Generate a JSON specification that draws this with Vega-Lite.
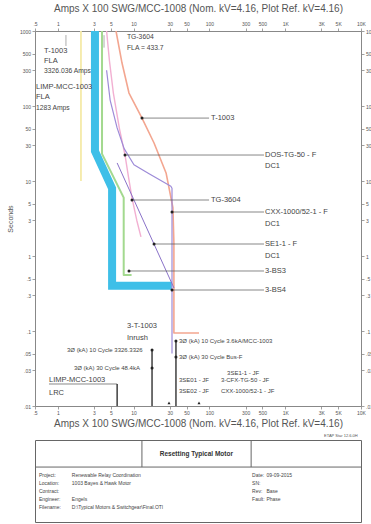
{
  "$schema": "https://vega.github.io/schema/vega-lite/v6.json",
  "padding": {"left": 5, "top": 3, "right": 0, "bottom": 0},
  "background": "white",
  "spacing": 4,
  "config": {
    "view": {"stroke": null},
    "font": "Liberation Sans",
    "axis": {"domain": false, "grid": false, "tickColor": "#888", "tickSize": 3, "tickWidth": 0.8, "labelFontSize": 5, "labelColor": "#555", "labelPadding": 1.5, "labelFlush": false, "labelOverlap": false, "labelBound": false, "titleFontSize": 10, "titleColor": "#555", "titleFontWeight": "normal", "labelFont": "Liberation Sans", "titleFont": "Liberation Sans"}
  },
  "datasets": {
    "curves": [
      {"s": "Motor Start", "x": 3.09, "y": 1000, "o": 1},
      {"s": "Motor Start", "x": 3.09, "y": 25, "o": 2},
      {"s": "Motor Start", "x": 5.2, "y": 8.0, "o": 3},
      {"s": "Motor Start", "x": 5.2, "y": 0.4, "o": 4},
      {"s": "Motor Start", "x": 32, "y": 0.4, "o": 5},
      {"s": "Motor Hot", "x": 3.83, "y": 1000, "o": 1},
      {"s": "Motor Hot", "x": 3.83, "y": 23, "o": 2},
      {"s": "Motor Hot", "x": 7.4, "y": 6.0, "o": 3},
      {"s": "Motor Hot", "x": 7.4, "y": 0.56, "o": 4},
      {"s": "Motor Hot", "x": 9.4, "y": 0.56, "o": 5},
      {"s": "Ref", "x": 2.02, "y": 1000, "o": 1},
      {"s": "Ref", "x": 2.02, "y": 10, "o": 2},
      {"s": "T-1003", "x": 5.86, "y": 1000, "o": 1},
      {"s": "T-1003", "x": 7.03, "y": 374, "o": 2},
      {"s": "T-1003", "x": 8.69, "y": 149, "o": 3},
      {"s": "T-1003", "x": 12.9, "y": 69, "o": 4},
      {"s": "T-1003", "x": 18.6, "y": 32.1, "o": 5},
      {"s": "T-1003", "x": 26.8, "y": 12.8, "o": 6},
      {"s": "T-1003", "x": 33, "y": 4.4, "o": 7},
      {"s": "T-1003", "x": 34, "y": 1.5, "o": 8},
      {"s": "T-1003", "x": 34, "y": 0.094, "o": 9},
      {"s": "T-1003", "x": 72.9, "y": 0.094, "o": 10},
      {"s": "DOS-TG-50", "x": 4.4, "y": 1000, "o": 1},
      {"s": "DOS-TG-50", "x": 4.8, "y": 400, "o": 2},
      {"s": "DOS-TG-50", "x": 5.4, "y": 150, "o": 3},
      {"s": "DOS-TG-50", "x": 6.5, "y": 50, "o": 4},
      {"s": "DOS-TG-50", "x": 7.7, "y": 22.2, "o": 5},
      {"s": "DOS-TG-50", "x": 8.6, "y": 11, "o": 6},
      {"s": "DOS-TG-50", "x": 9.52, "y": 5.93, "o": 7},
      {"s": "DOS-TG-50", "x": 11, "y": 3, "o": 8},
      {"s": "DOS-TG-50", "x": 12.5, "y": 1.8, "o": 9},
      {"s": "CXX", "x": 4.4, "y": 300, "o": 1},
      {"s": "CXX", "x": 4.9, "y": 120, "o": 2},
      {"s": "CXX", "x": 6.06, "y": 51, "o": 3},
      {"s": "CXX", "x": 7.5, "y": 27, "o": 4},
      {"s": "CXX", "x": 10.1, "y": 16.5, "o": 5},
      {"s": "CXX", "x": 16, "y": 12.5, "o": 6},
      {"s": "CXX", "x": 31, "y": 8.5, "o": 7},
      {"s": "CXX", "x": 32.1, "y": 8.0, "o": 8},
      {"s": "CXX", "x": 32.1, "y": 0.05, "o": 9},
      {"s": "SE1-1", "x": 6.06, "y": 17.4, "o": 1},
      {"s": "SE1-1", "x": 34.1, "y": 0.374, "o": 2}
    ],
    "pointers": [
      {"x": 12.9, "xe": 99, "y": 69},
      {"x": 7.7, "xe": 525, "y": 22.2},
      {"x": 9.52, "xe": 99, "y": 5.58},
      {"x": 32.1, "xe": 525, "y": 3.86},
      {"x": 18.6, "xe": 525, "y": 1.445},
      {"x": 8.69, "xe": 525, "y": 0.631},
      {"x": 32.1, "xe": 525, "y": 0.352},
      {"x": 0.765, "xe": 6.06, "y": 0.01965}
    ],
    "vrules": [
      {"x": 17.5, "y": 0.0558, "y2": 0.01},
      {"x": 36.2, "y": 0.0735, "y2": 0.01},
      {"x": 6.06, "y": 0.01965, "y2": 0.01}
    ],
    "markers": [
      {"x": 1.28, "y": 884, "y2": 631},
      {"x": 4.07, "y": 880, "y2": 600}
    ],
    "dots": [
      {"x": 12.9, "y": 69, "sh": "circle"},
      {"x": 7.7, "y": 22.2, "sh": "circle"},
      {"x": 9.52, "y": 5.58, "sh": "circle"},
      {"x": 32.1, "y": 3.86, "sh": "circle"},
      {"x": 18.6, "y": 1.445, "sh": "circle"},
      {"x": 8.69, "y": 0.631, "sh": "circle"},
      {"x": 32.1, "y": 0.352, "sh": "circle"},
      {"x": 17.5, "y": 0.0558, "sh": "circle"},
      {"x": 17.5, "y": 0.0321, "sh": "circle"},
      {"x": 36.2, "y": 0.0735, "sh": "circle"},
      {"x": 36.2, "y": 0.045, "sh": "circle"},
      {"x": 29.3, "y": 0.011, "sh": "triangle-up"},
      {"x": 72.9, "y": 0.011, "sh": "triangle-up"}
    ],
    "texts": [
      {"t": "T-1003", "x": 0.657, "y": 541, "g": "big"},
      {"t": "FLA", "x": 0.657, "y": 398, "g": "big"},
      {"t": "3326.036 Amps", "x": 0.657, "y": 293, "g": "mid"},
      {"t": "LIMP-MCC-1003", "x": 0.515, "y": 180, "g": "big"},
      {"t": "FLA", "x": 0.515, "y": 132, "g": "big"},
      {"t": "1283 Amps", "x": 0.515, "y": 94, "g": "mid"},
      {"t": "TG-3604", "x": 8.18, "y": 832, "g": "mid"},
      {"t": "FLA = 433.7", "x": 8.18, "y": 593, "g": "mid"},
      {"t": "T-1003", "x": 105, "y": 69, "g": "big"},
      {"t": "DOS-TG-50 - F", "x": 541, "y": 22.2, "g": "big"},
      {"t": "DC1", "x": 541, "y": 15.8, "g": "big"},
      {"t": "TG-3604", "x": 105, "y": 5.58, "g": "big"},
      {"t": "CXX-1000/52-1 - F", "x": 541, "y": 3.86, "g": "big"},
      {"t": "DC1", "x": 541, "y": 2.67, "g": "big"},
      {"t": "SE1-1 - F", "x": 541, "y": 1.445, "g": "big"},
      {"t": "DC1", "x": 541, "y": 1.0, "g": "big"},
      {"t": "3-BS3", "x": 541, "y": 0.631, "g": "big"},
      {"t": "3-BS4", "x": 541, "y": 0.352, "g": "big"},
      {"t": "3-T-1003", "x": 8.18, "y": 0.1163, "g": "big"},
      {"t": "Inrush", "x": 8.18, "y": 0.0807, "g": "big"},
      {"t": "3Ø (kA) 10 Cycle 3326.3326", "x": 1.32, "y": 0.0558, "g": "small"},
      {"t": "3Ø (kA) 30 Cycle 48.4kA", "x": 1.63, "y": 0.0321, "g": "small"},
      {"t": "3Ø (kA) 10 Cycle 3.6kA/MCC-1003", "x": 39.7, "y": 0.0735, "g": "small"},
      {"t": "3Ø (kA) 30 Cycle Bus-F", "x": 39.7, "y": 0.045, "g": "small"},
      {"t": "3SE1-1 - JF", "x": 171, "y": 0.0275, "g": "small"},
      {"t": "3SE01 - JF", "x": 39.7, "y": 0.0222, "g": "small"},
      {"t": "3-CFX-TG-50 - JF", "x": 142, "y": 0.0222, "g": "small"},
      {"t": "3SE02 - JF", "x": 39.7, "y": 0.01585, "g": "small"},
      {"t": "CXX-1000/52-1 - JF", "x": 142, "y": 0.01585, "g": "small"},
      {"t": "LIMP-MCC-1003", "x": 0.765, "y": 0.0222, "g": "big"},
      {"t": "LRC", "x": 0.765, "y": 0.0149, "g": "big"}
    ],
    "blines": [
      {"x": 0, "x2": 1, "y": 0.67, "y2": 0.67},
      {"x": 0.328, "x2": 0.328, "y": 0.67, "y2": 1},
      {"x": 0.663, "x2": 0.663, "y": 0.67, "y2": 1}
    ],
    "btexts": [
      {"t": "Project:", "x": 0.012, "y": 0.573},
      {"t": "Location:", "x": 0.012, "y": 0.476},
      {"t": "Contract:", "x": 0.012, "y": 0.378},
      {"t": "Engineer:", "x": 0.012, "y": 0.28},
      {"t": "Filename:", "x": 0.012, "y": 0.183},
      {"t": "Renewable Relay Coordination", "x": 0.113, "y": 0.573},
      {"t": "1003 Bayes & Hawk Motor", "x": 0.113, "y": 0.476},
      {"t": "Engels", "x": 0.113, "y": 0.28},
      {"t": "D:\\Typical Motors & Switchgear\\Final.OTI", "x": 0.113, "y": 0.183},
      {"t": "Date:", "x": 0.666, "y": 0.573},
      {"t": "SN:", "x": 0.666, "y": 0.476},
      {"t": "Rev:", "x": 0.666, "y": 0.378},
      {"t": "Fault:", "x": 0.666, "y": 0.28},
      {"t": "09-09-2015", "x": 0.71, "y": 0.573},
      {"t": "Base", "x": 0.71, "y": 0.378},
      {"t": "Phase", "x": 0.71, "y": 0.28}
    ],
    "btitle": [
      {"t": "Resetting Typical Motor", "x": 0.495, "y": 0.83}
    ],
    "bnote": [
      {"t": "ETAP Star 12.6.0H", "x": 0.99, "y": 1.05}
    ]
  },
  "vconcat": [
    {
      "width": 326,
      "height": 375,
      "view": {"stroke": "#888", "strokeWidth": 1},
      "resolve": {"axis": {"x": "independent", "y": "independent"}},
      "layer": [
        {
          "data": {"name": "curves"},
          "transform": [{"filter": "datum.s === 'Motor Start'"}],
          "mark": {"type": "line", "color": "#3ebfe8", "strokeWidth": 8, "strokeCap": "butt", "strokeJoin": "miter", "clip": true},
          "encoding": {
            "x": {"field": "x", "type": "quantitative", "scale": {"type": "log", "domain": [0.5, 10000], "nice": false},
              "axis": {"orient": "bottom", "values": [0.5, 1, 3, 5, 10, 30, 50, 100, 300, 500, 1000, 3000, 5000, 10000],
                "labelExpr": "datum.value >= 1000 ? (datum.value/1000) + 'K' : datum.value < 1 ? '.5' : toString(datum.value)",
                "title": "Amps X 100  SWG/MCC-1008 (Nom. kV=4.16, Plot Ref. kV=4.16)", "titlePadding": 3}},
            "y": {"field": "y", "type": "quantitative", "scale": {"type": "log", "domain": [0.01, 1000], "nice": false},
              "axis": {"orient": "left", "values": [0.01, 0.03, 0.05, 0.1, 0.3, 0.5, 1, 3, 5, 10, 30, 50, 100, 300, 500, 1000],
                "labelExpr": "datum.value < 1 ? slice(toString(datum.value), 1) : toString(datum.value)",
                "title": "Seconds", "titleFontSize": 7, "titlePadding": 6}},
            "order": {"field": "o", "type": "quantitative"}
          }
        },
        {
          "data": {"name": "curves"},
          "transform": [{"filter": "datum.s !== 'Motor Start'"}],
          "mark": {"type": "line", "clip": true, "strokeJoin": "round"},
          "encoding": {
            "x": {"field": "x", "type": "quantitative",
              "axis": {"orient": "top", "values": [0.5, 1, 3, 5, 10, 30, 50, 100, 300, 500, 1000, 3000, 5000, 10000],
                "labelExpr": "datum.value >= 1000 ? (datum.value/1000) + 'K' : datum.value < 1 ? '.5' : toString(datum.value)",
                "title": "Amps X 100  SWG/MCC-1008 (Nom. kV=4.16, Plot Ref. kV=4.16)", "titlePadding": 8}},
            "y": {"field": "y", "type": "quantitative",
              "axis": {"orient": "right", "values": [0.01, 0.03, 0.05, 0.1, 0.3, 0.5, 1, 3, 5, 10, 30, 50, 100, 300, 500, 1000],
                "labelExpr": "datum.value < 1 ? slice(toString(datum.value), 1) : toString(datum.value)", "title": null}},
            "color": {"field": "s", "type": "nominal", "legend": null,
              "scale": {"domain": ["Motor Hot", "Ref", "T-1003", "DOS-TG-50", "CXX", "SE1-1"],
                "range": ["#a3d98f", "#f5eaa8", "#f3a690", "#f2b0d2", "#9d8bd8", "#8a72c8"]}},
            "strokeWidth": {"field": "s", "type": "ordinal", "legend": null,
              "scale": {"domain": ["Motor Hot", "Ref", "T-1003", "DOS-TG-50", "CXX", "SE1-1"],
                "range": [2, 1, 1, 1, 1.1, 1.1]}},
            "order": {"field": "o", "type": "quantitative"}
          }
        },
        {
          "data": {"name": "pointers"},
          "mark": {"type": "rule", "color": "#555", "strokeWidth": 0.7},
          "encoding": {
            "x": {"field": "x", "type": "quantitative", "axis": null},
            "x2": {"field": "xe"},
            "y": {"field": "y", "type": "quantitative", "axis": null}
          }
        },
        {
          "data": {"name": "vrules"},
          "mark": {"type": "rule", "color": "#222", "strokeWidth": 1.3},
          "encoding": {
            "x": {"field": "x", "type": "quantitative", "axis": null},
            "y": {"field": "y", "type": "quantitative", "axis": null},
            "y2": {"field": "y2"}
          }
        },
        {
          "data": {"name": "markers"},
          "mark": {"type": "rule", "color": "#999", "strokeWidth": 0.8},
          "encoding": {
            "x": {"field": "x", "type": "quantitative", "axis": null},
            "y": {"field": "y", "type": "quantitative", "axis": null},
            "y2": {"field": "y2"}
          }
        },
        {
          "data": {"name": "dots"},
          "mark": {"type": "point", "filled": true, "color": "#222", "size": 9, "opacity": 1},
          "encoding": {
            "x": {"field": "x", "type": "quantitative", "axis": null},
            "y": {"field": "y", "type": "quantitative", "axis": null},
            "shape": {"field": "sh", "type": "nominal", "legend": null,
              "scale": {"domain": ["circle", "triangle-up"], "range": ["circle", "triangle-up"]}}
          }
        },
        {
          "data": {"name": "texts"},
          "mark": {"type": "text", "align": "left", "baseline": "middle", "color": "#444", "font": "Liberation Sans"},
          "encoding": {
            "x": {"field": "x", "type": "quantitative", "axis": null},
            "y": {"field": "y", "type": "quantitative", "axis": null},
            "text": {"field": "t"},
            "size": {"field": "g", "type": "ordinal", "legend": null,
              "scale": {"domain": ["big", "mid", "small"], "range": [7.5, 6, 4.5]}}
          }
        }
      ]
    },
    {
      "width": 326,
      "height": 82,
      "view": {"stroke": "#666", "strokeWidth": 1},
      "layer": [
        {
          "data": {"name": "blines"},
          "mark": {"type": "rule", "color": "#666", "strokeWidth": 1},
          "encoding": {
            "x": {"field": "x", "type": "quantitative", "scale": {"domain": [0, 1], "nice": false}, "axis": null},
            "x2": {"field": "x2"},
            "y": {"field": "y", "type": "quantitative", "scale": {"domain": [0, 1], "nice": false}, "axis": null},
            "y2": {"field": "y2"}
          }
        },
        {
          "data": {"name": "btexts"},
          "mark": {"type": "text", "align": "left", "baseline": "middle", "fontSize": 5, "color": "#444"},
          "encoding": {
            "x": {"field": "x", "type": "quantitative", "axis": null},
            "y": {"field": "y", "type": "quantitative", "axis": null},
            "text": {"field": "t"}
          }
        },
        {
          "data": {"name": "btitle"},
          "mark": {"type": "text", "align": "center", "baseline": "middle", "fontSize": 6.5, "fontWeight": "bold", "color": "#333"},
          "encoding": {
            "x": {"field": "x", "type": "quantitative", "axis": null},
            "y": {"field": "y", "type": "quantitative", "axis": null},
            "text": {"field": "t"}
          }
        },
        {
          "data": {"name": "bnote"},
          "mark": {"type": "text", "align": "right", "baseline": "middle", "fontSize": 4, "color": "#555"},
          "encoding": {
            "x": {"field": "x", "type": "quantitative", "axis": null},
            "y": {"field": "y", "type": "quantitative", "axis": null},
            "text": {"field": "t"}
          }
        }
      ]
    }
  ]
}
